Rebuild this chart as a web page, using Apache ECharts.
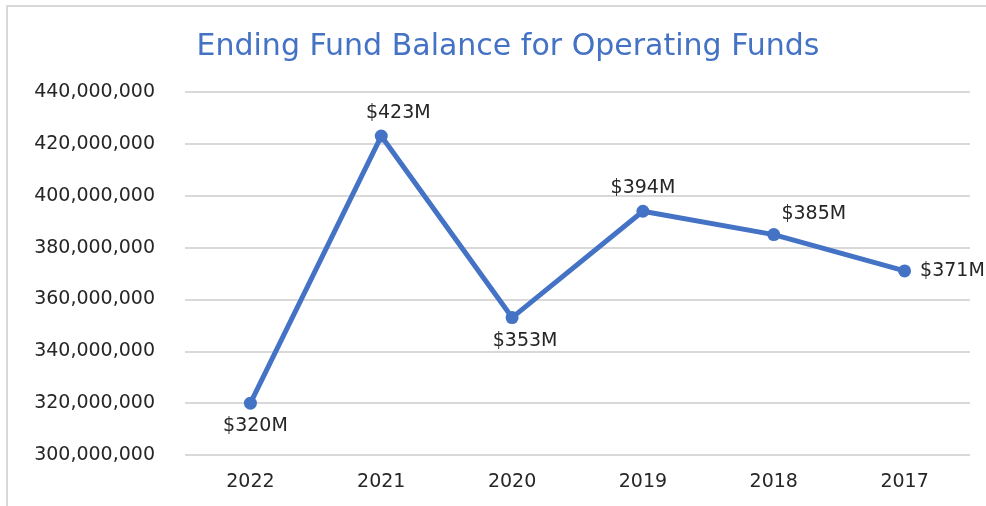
<!DOCTYPE html>
<html lang="en">
<head>
<meta charset="utf-8" />
<script src="https://cdn.jsdelivr.net/npm/echarts@6/dist/echarts.min.js"></script>
<style>
  html, body { margin: 0; padding: 0; background: #fff; }
  #main { width: 986px; height: 506px; }
</style>
</head>
<body>
<div id="main"></div>
<script>
// data
var years = ['2022', '2021', '2020', '2019', '2018', '2017'];
var balances = [320000000, 423000000, 353000000, 394000000, 385000000, 371000000];
var yTicks = { min: 300000000, max: 440000000, step: 20000000 };

// label placement per point (style only)
var labelPlace = [
  { position: 'bottom', offset: [5, 0] },
  { position: 'top', offset: [17, 0] },
  { position: 'bottom', offset: [13, 0] },
  { position: 'top', offset: [0, 0] },
  { position: 'top', offset: [40, 2] },
  { position: 'right', offset: [2, 0] }
];

var font = '"DejaVu Sans", sans-serif';
var blue = '#4472C4';
var ink = '#262626';

var chart = echarts.init(document.getElementById('main'));
chart.setOption({
  animation: false,
  title: {
    text: 'Ending Fund Balance for Operating Funds',
    left: 503, top: 27, textAlign: 'center',
    textStyle: { color: blue, fontFamily: font, fontSize: 30, fontWeight: 'normal' }
  },
  graphic: [
    { type: 'line', shape: { x1: 6, y1: 6, x2: 986, y2: 6 }, style: { stroke: '#d9d9d9', lineWidth: 2 } },
    { type: 'line', shape: { x1: 7, y1: 6, x2: 7, y2: 506 }, style: { stroke: '#d9d9d9', lineWidth: 2 } }
  ],
  grid: { left: 185, right: 16, top: 92, bottom: 51 },
  xAxis: {
    type: 'category',
    data: years,
    boundaryGap: true,
    axisLine: { show: false },
    axisTick: { show: false },
    axisLabel: { color: ink, fontFamily: font, fontSize: 19, margin: 18 }
  },
  yAxis: {
    type: 'value',
    min: yTicks.min, max: yTicks.max, interval: yTicks.step,
    axisLine: { show: false },
    axisTick: { show: false },
    splitLine: { lineStyle: { color: '#d9d9d9', width: 2 } },
    axisLabel: {
      color: ink, fontFamily: font, fontSize: 19, margin: 30,
      formatter: function (v) { return v.toLocaleString('en-US'); }
    }
  },
  series: [{
    type: 'line',
    data: balances.map(function (v, i) {
      return {
        value: v,
        label: {
          show: true,
          position: labelPlace[i].position,
          offset: labelPlace[i].offset,
          distance: 7,
          color: ink, fontFamily: font, fontSize: 19,
          formatter: function (p) { return '$' + Math.round(p.value / 1e6) + 'M'; }
        }
      };
    }),
    color: blue,
    lineStyle: { color: blue, width: 5 },
    itemStyle: { color: blue },
    symbol: 'circle',
    symbolSize: 13,
    showAllSymbol: true
  }]
});
</script>
</body>
</html>
